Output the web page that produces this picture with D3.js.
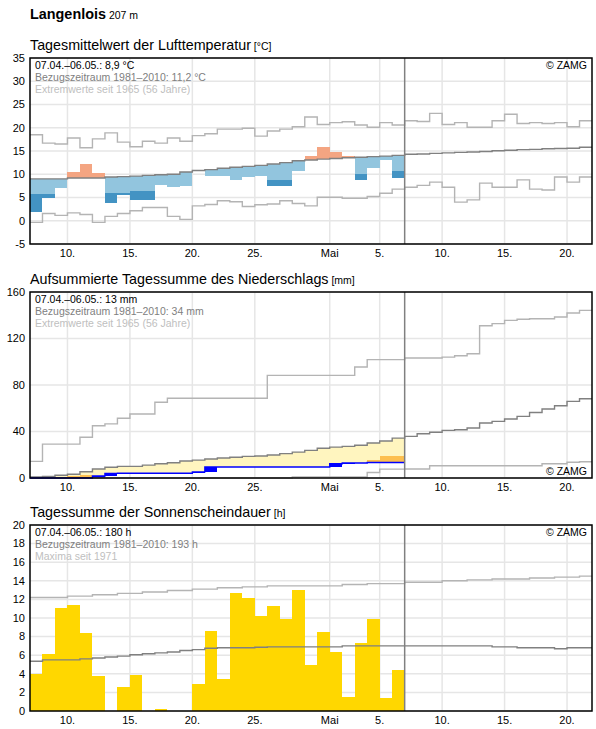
<!DOCTYPE html>
<html><head><meta charset="utf-8">
<script src="https://cdn.jsdelivr.net/npm/d3@7"></script>
<style>body{margin:0;background:#fff}svg{display:block;font-family:"Liberation Sans",Arial,sans-serif}rect{shape-rendering:crispEdges}</style>
</head><body>
<script>
// ---------- DATA ----------
const station = "Langenlois", stationAlt = "207 m";
const nDays = 45;          // 07.04. .. 21.05.
const nObs = 30;           // 07.04. .. 06.05.
const xTickDays = [3, 8, 13, 18, 24, 28, 33, 38, 43];
const xTickLabels = ["10.", "15.", "20.", "25.", "Mai", "5.", "10.", "15.", "20."];

// temperature (°C)
const tempTicks = [-5, 0, 5, 10, 15, 20, 25, 30, 35];
const tempClim = [9.0,9.0,9.0,9.2,9.2,9.2,9.4,9.5,9.6,9.75,9.9,10.0,10.5,10.8,11.0,11.3,11.5,11.7,11.9,12.2,12.5,12.9,13.05,13.25,13.4,13.55,13.65,13.8,13.9,14.05,14.3,14.35,14.5,14.6,14.7,14.8,14.9,15.05,15.15,15.3,15.35,15.5,15.55,15.6,15.8];
const tempObs = [1.8,4.85,6.95,10.4,12.3,10.2,3.85,5.5,4.5,4.5,7.6,7.25,7.45,10.8,9.6,9.6,8.75,9.5,9.6,7.55,7.55,10.6,14.0,15.85,14.8,14.0,8.8,11.4,13.05,9.3];
const tempLow = [5.7,5.7,5.6,5.8,5.8,5.8,5.9,5.9,6.3,6.3,6.5,6.6,7.1,7.4,7.6,7.9,8.1,8.3,8.5,8.8,8.8,9.5,9.6,9.8,10.0,10.1,10.1,10.4,10.5,10.7];
const tempMax = [18.5,16.7,16.5,17.8,15.7,17.6,18.9,16.9,15.9,17.1,16.7,17.8,17.1,18.3,18.7,19.7,19.7,19.9,18.2,19.3,19.7,20.2,22.3,20.7,21.1,21.3,20.6,20.1,21.1,20.6,21.5,21.35,23.1,20.7,21.1,20.1,20.1,21.5,22.9,20.9,21.1,20.9,21.1,20.2,21.5];
const tempMin = [-0.35,1.55,1.15,1.7,1.35,-0.35,0.95,1.55,2.15,2.85,2.85,0.95,0.3,3.2,3.5,4.3,4.1,3.05,3.45,3.6,4.3,3.7,3.2,5.05,5.05,4.85,4.85,5.2,5.9,6.8,7.2,7.6,8.3,7.2,4.0,4.5,8.1,7.2,7.2,8.8,6.8,6.6,9.4,8.3,9.4];

// precipitation, cumulative (mm)
const precTicks = [0, 40, 80, 120, 160];
const precClim = [0.8,1.3,2.4,3.2,5.4,7.7,9.3,10.0,10.0,11.1,12.3,13.1,14.6,15.4,16.3,17.2,17.9,18.6,18.9,19.8,21.0,22.3,23.8,25.6,26.6,27.2,28.2,30.1,31.8,34.3,35.8,38.1,39.3,41.0,41.5,43.0,47.3,48.7,50.7,53.0,56.4,59.3,62.2,65.9,68.2];
const precObs = [0,0,0,0,0,1.7,4.0,4.1,4.1,4.1,4.1,4.1,4.1,5.3,9.4,9.4,9.4,9.4,9.4,9.4,9.4,9.4,9.4,9.4,12.3,12.9,12.9,13.3,13.3,13.3];
const precLow = [0,0.3,0.9,1.5,2.4,1.6,2.6,3.0,3.2,3.4,3.6,3.8,4.0,4.6,5.2,5.8,6.3,6.8,7.3,7.8,8.3,8.8,9.0,9.2,10.5,11.5,12.5,15.7,19.3,19.3];
const precMax = [14.3,29.1,29.1,29.1,35.1,44.9,46.6,51.4,55.1,55.1,65.1,68.6,68.6,68.6,68.6,68.6,68.6,68.6,68.6,88.3,88.3,88.3,88.3,88.3,88.3,88.3,95.5,101.8,101.8,101.8,103.2,103.2,103.2,104.0,105.2,106.9,131.0,132.8,135.6,136.5,137.0,137.0,138.5,141.9,144.2];
const precMin = [0,0,0,0,0,0,0,0,0,0,0,0,0,0,0,0,0,0,0,0,0,0.9,0.9,0.9,0.9,0.9,0.9,4.7,7.6,7.6,7.7,7.7,10.6,10.6,10.6,10.6,10.6,10.6,10.6,10.6,10.6,12.3,12.3,13.5,14.0];

// sunshine (h)
const sunTicks = [0, 2, 4, 6, 8, 10, 12, 14, 16, 18, 20];
const sunObs = [4.0,6.1,11.05,11.4,8.35,3.8,0,2.6,3.9,0,0.2,0,0,2.85,8.6,3.4,12.65,12.1,10.2,11.3,9.9,13.0,4.95,8.45,6.35,1.5,7.3,9.9,1.4,4.4];
const sunClim = [5.35,5.5,5.5,5.5,5.6,5.7,5.8,5.9,6.05,6.15,6.25,6.35,6.5,6.6,6.75,6.8,6.8,6.8,6.85,6.9,6.9,6.9,6.9,6.9,6.9,7.0,7.0,7.0,7.0,7.0,7.0,7.0,7.0,7.0,7.0,7.0,7.0,6.9,6.9,6.8,6.8,6.8,6.7,6.8,6.8];
const sunMax = [12.2,12.2,12.2,12.35,12.35,12.5,12.5,12.65,12.65,12.8,12.8,12.95,12.95,13.1,13.1,13.25,13.25,13.35,13.35,13.45,13.45,13.45,13.45,13.45,13.45,13.6,13.6,13.7,13.7,13.7,13.85,13.85,13.85,14.0,14.0,14.1,14.1,14.2,14.2,14.2,14.3,14.3,14.4,14.4,14.5];

// texts
const titles = ["Tagesmittelwert der Lufttemperatur", "Aufsummierte Tagessumme des Niederschlags", "Tagessumme der Sonnenscheindauer"];
const units = ["[°C]", "[mm]", "[h]"];
const infoLines = [
  ["07.04.–06.05.: 8,9 °C", "Bezugszeitraum 1981–2010: 11,2 °C", "Extremwerte seit 1965 (56 Jahre)"],
  ["07.04.–06.05.: 13 mm", "Bezugszeitraum 1981–2010: 34 mm", "Extremwerte seit 1965 (56 Jahre)"],
  ["07.04.–06.05.: 180 h", "Bezugszeitraum 1981–2010: 193 h", "Maxima seit 1971"]
];
const copyright = "© ZAMG";

// ---------- LAYOUT ----------
const W = 596, H = 729;
const L = 30, R = 592, PH = 186;
const tops = [58, 292, 525];
const svg = d3.select("body").append("svg").attr("width", W).attr("height", H);
const x = d3.scaleLinear().domain([0, nDays]).range([L, R]);

const C = {grid: "#e6e6e6", ext: "#b4b4b4", clim: "#808080", lb: "#92c5de", db: "#4393c3", red: "#f4a582",
  yel: "#fff5bf", ora: "#fdbf4f", blue: "#0000ff", sun: "#ffd700"};

svg.append("text").attr("x", L).attr("y", 18.5).attr("font-size", 14.4).attr("font-weight", "bold").text(station)
  .append("tspan").attr("font-weight", "normal").attr("font-size", 10.5).text(" " + stationAlt);

function stepLine(vals, y) {
  const pts = vals.map((v, i) => [i, v]);
  pts.push([vals.length, vals[vals.length - 1]]);
  return d3.line().x(d => x(d[0])).y(d => y(d[1])).curve(d3.curveStepAfter)(pts);
}

function panel(k, domain, ticks) {
  const top = tops[k], bot = top + PH;
  const y = d3.scaleLinear().domain(domain).range([bot, top]);
  const g = svg.append("g");
  const t = g.append("text").attr("x", L).attr("y", top - 8.5).attr("font-size", 14.3).attr("fill", "#000").text(titles[k]);
  t.append("tspan").attr("font-size", 10.5).text(" " + units[k]);
  g.append("g").selectAll("line").data(ticks).join("line")
    .attr("x1", L).attr("x2", R).attr("y1", d => y(d)).attr("y2", d => y(d))
    .attr("stroke", C.grid).attr("stroke-width", 1.5);
  g.append("g").selectAll("line").data(xTickDays).join("line")
    .attr("x1", d => x(d)).attr("x2", d => x(d)).attr("y1", top).attr("y2", bot)
    .attr("stroke", C.grid).attr("stroke-width", 1.5);
  g.append("g").selectAll("text").data(ticks).join("text")
    .attr("x", 25).attr("y", d => y(d)).attr("dy", "0.35em").attr("text-anchor", "end")
    .attr("font-size", 11).text(d => d);
  g.append("g").selectAll("text").data(xTickDays).join("text")
    .attr("x", d => x(d)).attr("y", bot + 13).attr("text-anchor", "middle")
    .attr("font-size", 11).text((d, i) => xTickLabels[i]);
  const layer = g.append("g");
  return {g, layer, y, top, bot};
}

function finish(p, k, zamgBottom) {
  const g = p.g;
  g.append("line").attr("x1", x(nObs)).attr("x2", x(nObs)).attr("y1", p.top).attr("y2", p.bot)
    .attr("stroke", "#808080").attr("stroke-width", 1.5);
  g.append("rect").attr("x", L).attr("y", p.top).attr("width", R - L).attr("height", PH)
    .attr("fill", "none").attr("stroke", "#000").attr("stroke-width", 1.5).style("shape-rendering", "auto");
  const cols = ["#000", "#808080", "#c0c0c0"];
  infoLines[k].forEach((s, i) => g.append("text").attr("x", 35).attr("y", p.top + 11 + i * 12)
    .attr("font-size", 10.5).attr("fill", cols[i]).text(s));
  g.append("text").attr("x", 587).attr("y", zamgBottom ? p.bot - 3 : p.top + 11)
    .attr("text-anchor", "end").attr("font-size", 10.5).attr("fill", "#000").text(copyright);
}

function drawLines(lay, y, series) {
  series.forEach(([v, c]) =>
    lay.append("path").attr("d", stepLine(v, y)).attr("fill", "none").attr("stroke", c).attr("stroke-width", 1.4));
}

// ---------- PANEL 1: temperature ----------
{
  const p = panel(0, [-5, 35], tempTicks), y = p.y, lay = p.layer;
  const idx = d3.range(nObs);
  lay.selectAll(".tb").data(idx.filter(i => tempObs[i] < tempClim[i])).join("rect")
    .attr("x", i => x(i)).attr("width", i => x(i + 1) - x(i))
    .attr("y", i => y(tempClim[i])).attr("height", i => y(tempObs[i]) - y(tempClim[i])).attr("fill", C.lb);
  lay.selectAll(".td").data(idx.filter(i => tempObs[i] < tempLow[i])).join("rect")
    .attr("x", i => x(i)).attr("width", i => x(i + 1) - x(i))
    .attr("y", i => y(tempLow[i])).attr("height", i => y(tempObs[i]) - y(tempLow[i])).attr("fill", C.db);
  lay.selectAll(".tr").data(idx.filter(i => tempObs[i] > tempClim[i])).join("rect")
    .attr("x", i => x(i)).attr("width", i => x(i + 1) - x(i))
    .attr("y", i => y(tempObs[i])).attr("height", i => y(tempClim[i]) - y(tempObs[i])).attr("fill", C.red);
  drawLines(lay, y, [[tempMax, C.ext], [tempMin, C.ext], [tempClim, C.clim]]);
  finish(p, 0, false);
}

// ---------- PANEL 2: precipitation ----------
{
  const p = panel(1, [0, 160], precTicks), y = p.y, lay = p.layer;
  const idx = d3.range(nObs);
  lay.selectAll(".py").data(idx.filter(i => precObs[i] < precClim[i])).join("rect")
    .attr("x", i => x(i)).attr("width", i => x(i + 1) - x(i))
    .attr("y", i => y(precClim[i])).attr("height", i => y(precObs[i]) - y(precClim[i])).attr("fill", C.yel);
  lay.selectAll(".po").data(idx.filter(i => precObs[i] < precLow[i])).join("rect")
    .attr("x", i => x(i)).attr("width", i => x(i + 1) - x(i))
    .attr("y", i => y(precLow[i])).attr("height", i => y(precObs[i]) - y(precLow[i])).attr("fill", C.ora);
  lay.selectAll(".pb").data(idx.filter(i => precObs[i] > (i ? precObs[i - 1] : 0))).join("rect")
    .attr("x", i => x(i)).attr("width", i => x(i + 1) - x(i))
    .attr("y", i => y(precObs[i])).attr("height", i => y(i ? precObs[i - 1] : 0) - y(precObs[i])).attr("fill", C.blue);
  drawLines(lay, y, [[precMax, C.ext], [precMin, C.ext], [precClim, C.clim], [precObs, C.blue]]);
  finish(p, 1, true);
}

// ---------- PANEL 3: sunshine ----------
{
  const p = panel(2, [0, 20], sunTicks), y = p.y, lay = p.layer;
  lay.selectAll(".sb").data(d3.range(nObs).filter(i => sunObs[i] > 0)).join("rect")
    .attr("x", i => x(i)).attr("width", i => x(i + 1) - x(i))
    .attr("y", i => y(sunObs[i])).attr("height", i => y(0) - y(sunObs[i])).attr("fill", C.sun);
  drawLines(lay, y, [[sunMax, C.ext], [sunClim, C.clim]]);
  finish(p, 2, false);
}
</script>
</body></html>
